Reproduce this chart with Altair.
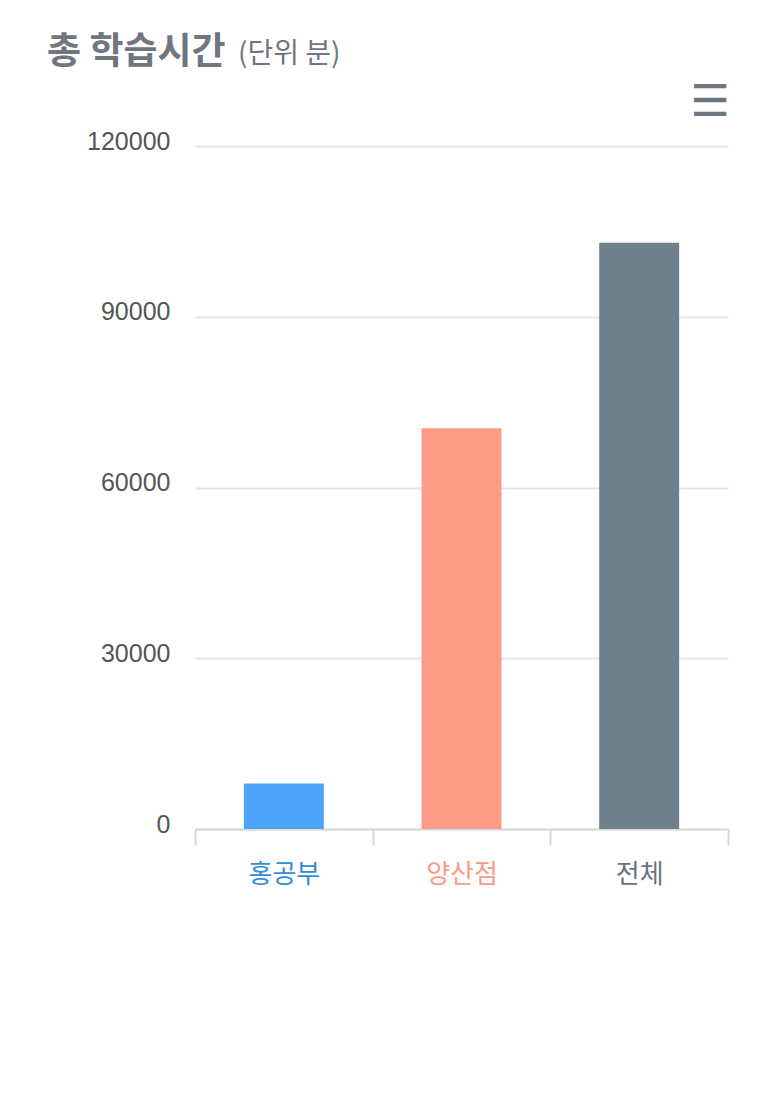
import altair as alt
import pandas as pd

categories = ["홍공부", "양산점", "전체"]
values = [8000, 70400, 103000]
bar_colors = ["#4da3fa", "#fe9a86", "#6e818b"]
label_colors = ["#2f8fd6", "#fd9a86", "#66737d"]
y_ticks = [0, 30000, 60000, 90000, 120000]
title_main = "총 학습시간"
title_unit = "(단위 분)"
menu_icon = "☰"

df = pd.DataFrame({"cat": categories, "val": values})

label_expr = "".join(
    f"datum.value == '{c}' ? '{col}' : " for c, col in zip(categories[:-1], label_colors[:-1])
) + f"'{label_colors[-1]}'"

bars = alt.Chart(df).mark_bar(width=alt.RelativeBandSize(0.45)).encode(
    x=alt.X(
        "cat:N",
        sort=categories,
        scale=alt.Scale(paddingInner=0, paddingOuter=0),
        axis=alt.Axis(
            title=None, labelAngle=0, tickBand="extent", tickSize=16,
            tickColor="#d9d9d9", tickWidth=2, domainColor="#d9d9d9", domainWidth=2,
            labelFont="Noto Sans CJK KR", labelFontSize=26, labelPadding=16,
            labelColor={"expr": label_expr}, grid=False,
        ),
    ),
    y=alt.Y(
        "val:Q",
        scale=alt.Scale(domain=[0, 120000]),
        axis=alt.Axis(
            title=None, values=y_ticks, format="d", domain=False, ticks=False,
            gridColor="#e6e6e6", gridWidth=2,
            labelFont="Liberation Sans", labelFontSize=25, labelColor="#555555",
            labelPadding=25, labelOffset=-5,
        ),
    ),
    color=alt.Color("cat:N", scale=alt.Scale(domain=categories, range=bar_colors), legend=None),
)

unit = alt.Chart(pd.DataFrame({"t": [title_unit]})).mark_text(
    align="left", baseline="alphabetic", font="Noto Sans CJK KR", fontSize=28, color="#707680"
).encode(text="t:N", x=alt.value(43), y=alt.value(-83))

menu = alt.Chart(pd.DataFrame({"t": [menu_icon]})).mark_text(
    align="center", baseline="middle", font="DejaVu Sans", fontSize=44, fontWeight="bold", color="#6a7580"
).encode(text="t:N", x=alt.value(515), y=alt.value(-43))

chart = alt.layer(bars, unit, menu).properties(
    width=533,
    height=683,
    title=alt.TitleParams(
        text=title_main, anchor="start", frame="group", dx=-148, dy=35,
        font="Noto Sans CJK KR", fontSize=37, fontWeight="bold", color="#707680",
    ),
    autosize=alt.AutoSizeParams(type="none"),
    padding={"left": 187, "top": 138, "right": 37, "bottom": 250},
).configure(background="white").configure_view(stroke=None)

chart.save("out.html", embed_options={"renderer": "svg", "actions": False})
